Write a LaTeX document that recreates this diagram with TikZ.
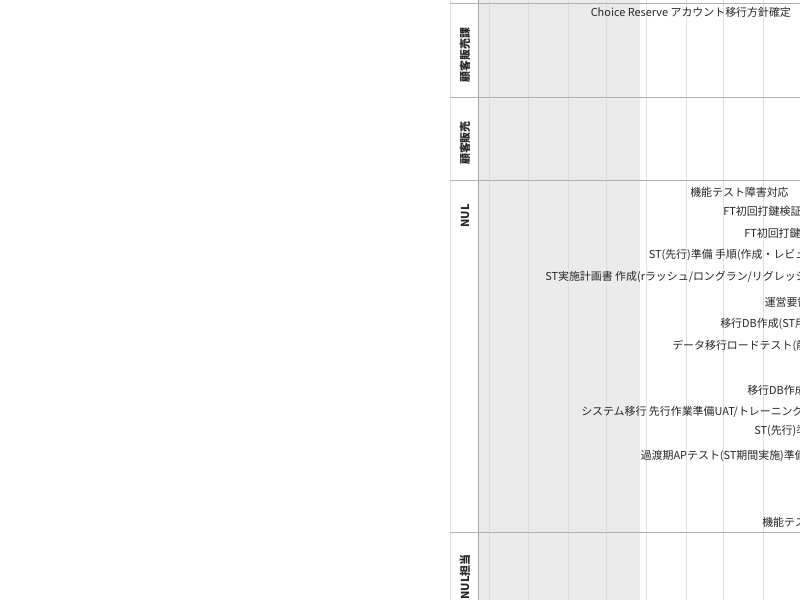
\documentclass[tikz,border=0pt]{standalone}
\usepackage{fontspec}
\setmainfont{Noto Sans CJK JP}
\begin{document}
\begin{tikzpicture}[x=0.75pt,y=-0.75pt,
  lane/.style={draw=black!30,line width=0.75pt},
  grid/.style={draw=black!13,line width=0.75pt},
  task/.style={anchor=west,inner sep=0pt,font=\fontsize{8.2}{9}\selectfont,text=black!85},
  lanelabel/.style={rotate=90,inner sep=0pt,font=\fontsize{8.2}{9}\selectfont\bfseries,text=black!85}]
\useasboundingbox (0,0) rectangle (800,600);
\clip (0,0) rectangle (800,600);
\fill[white] (0,0) rectangle (800,600);
\fill[black!8] (478,0) rectangle (640,600);
\foreach \x in {489.3,528.3,568.3,606.7,646.7,686.7,723.3,763.3}
  \draw[grid] (\x,0) -- (\x,600);
\draw[draw=black!12,line width=0.75pt] (450,0) -- (450,600);
\draw[draw=black!35,line width=0.75pt] (478,0) -- (478,600);
\foreach \y in {3.3,97.3,180,532.3}
  \draw[lane] (450,\y) -- (800,\y);
% lane labels
\node[lanelabel] (l1) at (465,55) {顧客販売課};
\node[lanelabel] (l2) at (465,143) {顧客販売};
\node[lanelabel] (l3) at (465,216) {NUL};
\node[lanelabel,anchor=east] (l4) at (465,554) {NUL担当};
% tasks
\node[task] (t1) at (590.5,12) {Choice Reserve アカウント移行方針確定};
\node[task] (t2) at (690,192) {機能テスト障害対応};
\node[task] (t3) at (723,211) {FT初回打鍵検証};
\node[task] (t4) at (744,233) {FT初回打鍵準備};
\node[task] (t5) at (648.5,255) {ST(先行)準備 手順(作成・レビュー)};
\node[task] (t6) at (545,277) {ST実施計画書 作成(rラッシュ/ロングラン/リグレッション)};
\node[task] (t7) at (764.5,302) {運営要領};
\node[task] (t8) at (720,324) {移行DB作成(ST用)};
\node[task] (t9) at (672,346) {データ移行ロードテスト(前半)};
\node[task] (t10) at (747,390) {移行DB作成};
\node[task] (t11) at (581,412) {システム移行 先行作業準備UAT/トレーニング};
\node[task] (t12) at (754,431) {ST(先行)準備};
\node[task] (t13) at (640.5,456) {過渡期APテスト(ST期間実施)準備};
\node[task] (t14) at (762,522) {機能テスト};
\end{tikzpicture}
\end{document}
